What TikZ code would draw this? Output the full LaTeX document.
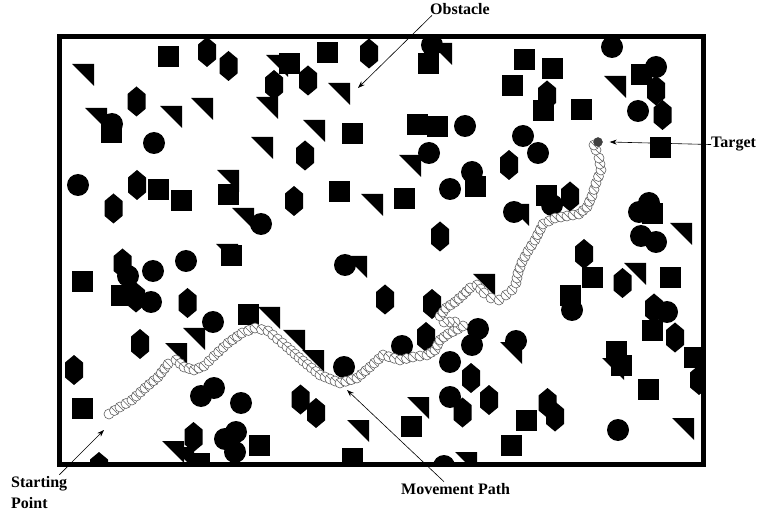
\documentclass[tikz,border=0pt]{standalone}
\usepackage{fontspec}
\setmainfont{Liberation Serif}
\usetikzlibrary{arrows.meta}
\newcommand\ObSq[2]{\fill[obst] ({#1-10.5},{#2-10.5}) rectangle ++(21,21);}
\newcommand\ObCi[2]{\fill[obst] (#1,#2) circle[radius=11pt];}
\newcommand\ObHx[2]{\fill[obst] ({#1},{#2-15}) -- ++(9,7.5) -- ++(0,15) -- ++(-9,7.5) -- ++(-9,-7.5) -- ++(0,-15) -- cycle;}
\newcommand\ObTr[2]{\fill[obst] (#1,#2) -- ++(22,0) -- ++(0,22) -- cycle;}
\begin{document}
\begin{tikzpicture}[x=1pt,y=-1pt,
  obst/.style={fill=black},
  lbl/.style={font=\bfseries\fontsize{16}{19}\selectfont, inner sep=0pt},
  callout/.style={-{Stealth[length=7pt,width=5pt]}, line width=0.6pt},
  frameline/.style={line width=5pt, draw=black},
  robotdot/.style={draw=black!62, fill=white, line width=0.6pt},
  robotmark/.style={draw=black!62, line width=0.5pt}]
\useasboundingbox (0,0) rectangle (761,513);
\begin{scope}
\clip (59.5,36.5) rectangle (703,464);
% squares
\foreach \x/\y in {168.5/56.5, 327.5/52.5, 428/64, 289.5/64, 352.5/133.5, 417.5/125, 437/126.5,
  524/60, 552.5/68.5, 512/86, 543.5/110.5, 581.5/110, 641.5/75, 660/148, 111.5/132.5,
  158.5/190, 181.5/200.5, 228.5/195, 231.5/256, 82/281.5, 121.5/296, 248.5/314.5,
  339/192, 404/198.5, 475.5/186.5, 546/195.5, 652.5/213.5, 592.5/277.5, 570/295.5, 670/277.5,
  82.5/408, 199/463, 259/445, 352.5/458.5, 411/426, 526.5/420, 511/445.5,
  652/330.5, 694.5/357.5, 616.5/351.5, 621.5/365, 648.5/389}
  {\ObSq{\x}{\y}}
% circles
\foreach \x/\y in {432/45, 429/153, 465/126, 472/172, 612/47, 656/67, 638/111, 523/136, 538/153,
  112/124, 154/143, 78/185, 261/224, 186/261, 153/271, 128/276, 151/302, 213/322,
  450/189, 345/265, 552/205, 514/212, 639/212, 649/203, 641/236, 656/242, 572/310, 667/312,
  201/396, 214/388, 241/403, 225/439, 236/432, 235/452, 344/367, 402/346, 450/362,
  478/329, 472/345, 450/397, 444/466, 516/341, 618/430}
  {\ObCi{\x}{\y}}
% hexagons
\foreach \x/\y in {207/52, 228.5/66, 274/85, 308/80.5, 369/53.5, 136.5/101.5, 305/155.5,
  547/95.5, 656/90.5, 662.5/115, 509/165, 137/185, 113.5/208.5, 122.5/263.5, 136/297.5,
  187.5/303, 294/201, 440/236.5, 385/299.5, 432/304, 570/196.5, 584/254, 622.5/283,
  654/308.5, 140/344, 74/370, 193.5/437, 99/467, 300.5/399.5, 316/413, 426/337,
  471/378, 489/400, 462.5/412.5, 547.5/403, 555/416.5, 675/337.5, 699/380}
  {\ObHx{\x}{\y}}
% triangles (top-left corner)
\foreach \x/\y in {72/64, 85/108, 160/106, 191/98, 251/137, 256/97, 266/55, 328/83, 303/120,
  430/43, 399/155, 604/76, 217/170, 232/208, 216/244, 258/307, 361/194, 345/256, 473/274,
  507/204, 670/223, 624/263, 183/328, 165/343, 162/441, 172/447, 283/330, 302/350,
  347/420, 407/397, 455/452, 500/342, 602/358, 672/418}
  {\ObTr{\x}{\y}}
\end{scope}
% frame
\draw[frameline] (59.5,36.5) rectangle (703,464);
% movement path: chain of robot positions
\draw[robotdot] (109,414) circle[radius=5pt];
\foreach \bx/\by [remember=\bx as \ax (initially 109), remember=\by as \ay (initially 414)] in {
  120/407, 132/400, 145/388, 158/377, 168/364, 176/360, 184/367, 194/370,
  204/366, 214/356, 228/343, 242/333, 255/328, 268/331, 287/347, 303/361, 320/375,
  340/383, 357/378, 370/367, 383/355, 400/360, 413/357, 427/355, 435/350, 440/340,
  448/334, 458/329, 463/326, 455/322, 444/322, 440/316, 446/308, 455/302, 463/295,
  470/288, 477/285, 484/293, 491/298, 499/300, 506/295, 512/290, 516/283, 518/273,
  522/262, 528/251, 535/240, 543/224,
  555/218, 567/216, 579/214, 587/207, 592/196, 596/183, 601/170, 599/158, 596/150, 594/145}
{
  \pgfmathsetmacro\seglen{veclen(\bx-\ax,\by-\ay)}
  \pgfmathtruncatemacro\nsteps{max(1,round(\seglen/6))}
  \foreach \i in {1,...,\nsteps}{
    \pgfmathsetmacro\px{\ax+(\bx-\ax)*\i/\nsteps}
    \pgfmathsetmacro\py{\ay+(\by-\ay)*\i/\nsteps}
    \draw[robotdot] (\px,\py) circle[radius=5pt];
    \draw[robotmark] ({\px-3.5},{\py-3.5}) -- ({\px+3.5},{\py+3.5});
  }
}
\node[circle, fill=black!75, draw=black!75, minimum size=9pt, inner sep=0pt] (target) at (598,142) {};
% labels and callouts
\node[lbl, anchor=base west] (obstlabel) at (430,15) {Obstacle};
\coordinate (obsttip) at (358,88);
\draw[callout] ([xshift=2pt]obstlabel.south west) -- (obsttip);
\node[lbl, anchor=base west] (tgtlabel) at (711,148) {Target};
\draw[callout] (tgtlabel.west) -- ([xshift=7pt]target.east);
\node[lbl, anchor=base west] (movlabel) at (401,494) {Movement Path};
\coordinate (movtip) at (347,390);
\draw[callout] ([xshift=43pt,yshift=1pt]movlabel.north west) -- (movtip);
\node[lbl, anchor=base west] (startlabel) at (11,487) {Starting};
\node[lbl, anchor=base west] (pointlabel) at (11,508) {Point};
\coordinate (starttip) at (104,430);
\draw[callout] ([xshift=-8pt,yshift=1pt]startlabel.north east) -- (starttip);
\end{tikzpicture}
\end{document}
